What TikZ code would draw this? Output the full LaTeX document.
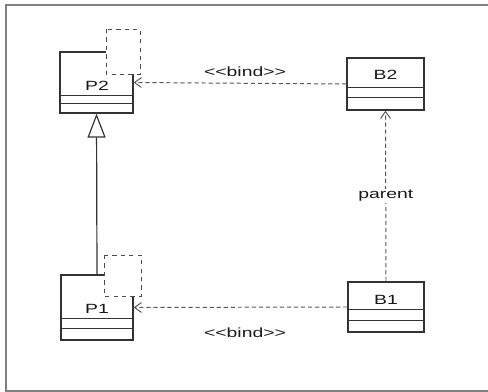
\documentclass[tikz,border=0pt]{standalone}
\usepackage{graphicx}
\usepackage{fontspec}
\setmainfont{Liberation Sans}
\usetikzlibrary{arrows.meta}
\newcommand{\umltxt}[1]{\scalebox{1.45}[1]{#1}}

\begin{document}
\begin{tikzpicture}[x=0.025cm,y=-0.025cm]
		\tikzset{cls/.style={draw=black!80,fill=white,line width=0.85pt,inner sep=0pt},
			tpl/.style={draw=black!70,dashed,fill=white,line width=0.7pt},
			dep/.style={draw=black!65,densely dashed,line width=0.7pt,-{Straight Barb[length=5pt,width=7pt]}},
			lbl/.style={font=\fontsize{9.5}{11}\selectfont,text=black!90,inner sep=1pt}}
		\useasboundingbox (0,0) rectangle (488,392);
		\draw[black!50,line width=1.2pt] (489,5) -| (6,391) -- (489,391);
		% classes
		\node (P2) at (96.5,82.5) [cls,minimum width=1.825cm,minimum height=1.525cm] {};
		\node (B2) at (385.5,84) [cls,minimum width=1.925cm,minimum height=1.3cm] {};
		\node (B1) at (386,307) [cls,minimum width=1.9cm,minimum height=1.25cm] {};
		\node (P1) at (97,307.5) [cls,minimum width=1.8cm,minimum height=1.625cm] {};
		\foreach \n/\a/\b in {P2/18/10, B2/23/13, B1/23/12, P1/22/12}
			\draw[cls] ([yshift=\a*0.025cm]\n.south west) -- ([yshift=\a*0.025cm]\n.south east)
			([yshift=\b*0.025cm]\n.south west) -- ([yshift=\b*0.025cm]\n.south east);
		% template parameters
		\draw[tpl] (106,29) rectangle (140,74);
		\draw[tpl] (104,255) rectangle (141,296);
		\node (P2n) at (97,86) [lbl] {\umltxt{P2}};
		\node (B2n) at (385.5,75) [lbl] {\umltxt{B2}};
		\node (B1n) at (386,300) [lbl] {\umltxt{B1}};
		\node (P1n) at (97,308.5) [lbl] {\umltxt{P1}};
		% relations
		\draw[dep] (B2.west) -- (P2.east);
		\draw[dep] (B1.west) -- (P1.east);
		\draw[dep] (B1.north) -- node[lbl,fill=white] {\umltxt{parent}} (B2.south);
		\draw[black!80,line width=0.85pt,-{Triangle[open,length=0.6cm,width=0.45cm]}] (P1.north) -- (P2.south);
		\node (bind1) at (245,72) [lbl] {\umltxt{<{}<bind>{}>}};
		\node (bind2) at (245,333) [lbl] {\umltxt{<{}<bind>{}>}};
	\end{tikzpicture}
\end{document}
